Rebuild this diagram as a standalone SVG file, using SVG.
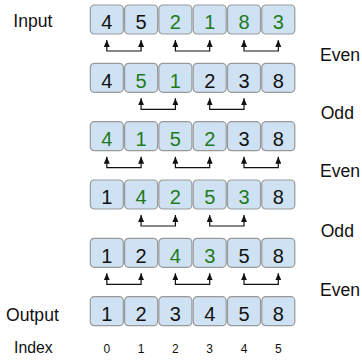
<svg xmlns="http://www.w3.org/2000/svg" width="362" height="362" viewBox="0 0 362 362">
<defs>
<style>
.box{fill:#cfe2f3;stroke:#999;stroke-width:1.2}
.d{font-family:"Liberation Sans",Arial,sans-serif;font-size:20px;text-anchor:middle;fill:#111}
.g{fill:#1e7b1e}
.lbl{font-family:"Liberation Sans",Arial,sans-serif;font-size:17.6px;fill:#111}
.idx{font-family:"Liberation Sans",Arial,sans-serif;font-size:12px;text-anchor:middle;fill:#111}
.c{fill:none;stroke:#111;stroke-width:1.2;marker-start:url(#ah);marker-end:url(#ah)}
</style>
<marker id="ah" markerUnits="userSpaceOnUse" markerWidth="7" markerHeight="6" viewBox="0 0 7 6" refX="7" refY="3" orient="auto-start-reverse"><path d="M0,0L7,3L0,6z" fill="#111"/></marker>
<rect id="b" class="box" width="33" height="29" rx="4"/>
</defs>
<rect width="362" height="362" fill="#fff"/>
<g id="labels">
<text class="lbl" x="13.3" y="26.7">Input</text>
<text class="lbl" x="320" y="60.7">Even</text>
<text class="lbl" x="320.7" y="119.3">Odd</text>
<text class="lbl" x="320" y="177">Even</text>
<text class="lbl" x="320.7" y="237.3">Odd</text>
<text class="lbl" x="320" y="296">Even</text>
<text class="lbl" x="6" y="320.7">Output</text>
<text class="lbl" x="14" y="353.3" style="font-size:15.8px">Index</text>
</g>
<g id="row0" transform="translate(0,5)">
<use href="#b" x="90.3"/><use href="#b" x="124.6"/><use href="#b" x="158.9"/><use href="#b" x="193.2"/><use href="#b" x="227.5"/><use href="#b" x="261.8"/>
<text class="d" x="106.8" y="24.3">4</text><text class="d" x="141.1" y="24.3">5</text><text class="d g" x="175.4" y="24.3">2</text><text class="d g" x="209.7" y="24.3">1</text><text class="d g" x="244" y="24.3">8</text><text class="d g" x="278.3" y="24.3">3</text>
</g>
<g id="row1" transform="translate(0,63.3)">
<use href="#b" x="90.3"/><use href="#b" x="124.6"/><use href="#b" x="158.9"/><use href="#b" x="193.2"/><use href="#b" x="227.5"/><use href="#b" x="261.8"/>
<text class="d" x="106.8" y="24.3">4</text><text class="d g" x="141.1" y="24.3">5</text><text class="d g" x="175.4" y="24.3">1</text><text class="d" x="209.7" y="24.3">2</text><text class="d" x="244" y="24.3">3</text><text class="d" x="278.3" y="24.3">8</text>
</g>
<g id="row2" transform="translate(0,121.7)">
<use href="#b" x="90.3"/><use href="#b" x="124.6"/><use href="#b" x="158.9"/><use href="#b" x="193.2"/><use href="#b" x="227.5"/><use href="#b" x="261.8"/>
<text class="d g" x="106.8" y="24.3">4</text><text class="d g" x="141.1" y="24.3">1</text><text class="d g" x="175.4" y="24.3">5</text><text class="d g" x="209.7" y="24.3">2</text><text class="d" x="244" y="24.3">3</text><text class="d" x="278.3" y="24.3">8</text>
</g>
<g id="row3" transform="translate(0,180)">
<use href="#b" x="90.3"/><use href="#b" x="124.6"/><use href="#b" x="158.9"/><use href="#b" x="193.2"/><use href="#b" x="227.5"/><use href="#b" x="261.8"/>
<text class="d" x="106.8" y="24.3">1</text><text class="d g" x="141.1" y="24.3">4</text><text class="d g" x="175.4" y="24.3">2</text><text class="d g" x="209.7" y="24.3">5</text><text class="d g" x="244" y="24.3">3</text><text class="d" x="278.3" y="24.3">8</text>
</g>
<g id="row4" transform="translate(0,238.3)">
<use href="#b" x="90.3"/><use href="#b" x="124.6"/><use href="#b" x="158.9"/><use href="#b" x="193.2"/><use href="#b" x="227.5"/><use href="#b" x="261.8"/>
<text class="d" x="106.8" y="24.3">1</text><text class="d" x="141.1" y="24.3">2</text><text class="d g" x="175.4" y="24.3">4</text><text class="d g" x="209.7" y="24.3">3</text><text class="d" x="244" y="24.3">5</text><text class="d" x="278.3" y="24.3">8</text>
</g>
<g id="row5" transform="translate(0,296.7)">
<use href="#b" x="90.3"/><use href="#b" x="124.6"/><use href="#b" x="158.9"/><use href="#b" x="193.2"/><use href="#b" x="227.5"/><use href="#b" x="261.8"/>
<text class="d" x="106.8" y="24.3">1</text><text class="d" x="141.1" y="24.3">2</text><text class="d" x="175.4" y="24.3">3</text><text class="d" x="209.7" y="24.3">4</text><text class="d" x="244" y="24.3">5</text><text class="d" x="278.3" y="24.3">8</text>
</g>
<g id="index">
<text class="idx" x="106.8" y="353">0</text><text class="idx" x="141.1" y="353">1</text><text class="idx" x="175.4" y="353">2</text><text class="idx" x="209.7" y="353">3</text><text class="idx" x="244" y="353">4</text><text class="idx" x="278.3" y="353">5</text>
</g>
<g id="connectors">
<path class="c" d="M106.8,40V51H141.1V40"/>
<path class="c" d="M175.4,40V51H209.7V40"/>
<path class="c" d="M244,40V51H278.3V40"/>
<path class="c" d="M141.1,98.3V109.3H175.4V98.3"/>
<path class="c" d="M209.7,98.3V109.3H244V98.3"/>
<path class="c" d="M106.8,156.7V167.7H141.1V156.7"/>
<path class="c" d="M175.4,156.7V167.7H209.7V156.7"/>
<path class="c" d="M244,156.7V167.7H278.3V156.7"/>
<path class="c" d="M141.1,215V226H175.4V215"/>
<path class="c" d="M209.7,215V226H244V215"/>
<path class="c" d="M106.8,273.3V284.3H141.1V273.3"/>
<path class="c" d="M175.4,273.3V284.3H209.7V273.3"/>
<path class="c" d="M244,273.3V284.3H278.3V273.3"/>
</g>
</svg>
